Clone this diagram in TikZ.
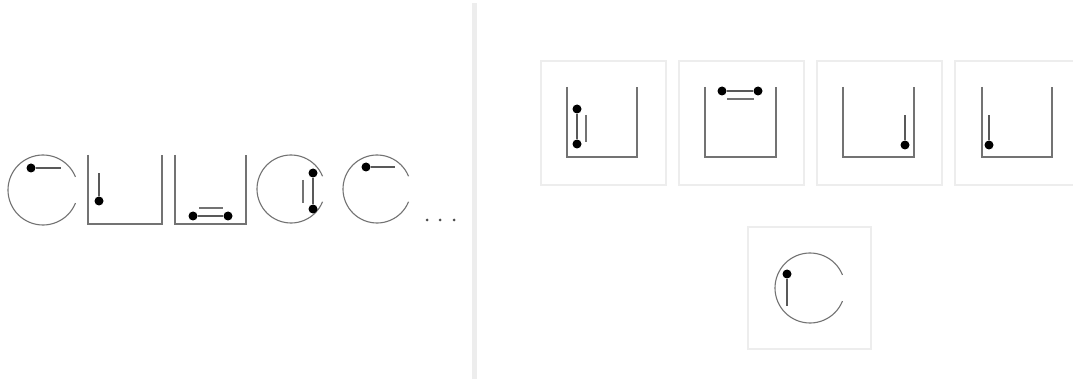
\documentclass[tikz,border=0pt]{standalone}
\begin{document}
\begin{tikzpicture}[x=1pt,y=-1pt,
  wall/.style={draw=black!55,line width=1.3pt},
  ring/.style={draw=black!55,line width=1.1pt},
  bar/.style={draw=black!65,line width=1.2pt},
  ghost/.style={draw=black!55,line width=1.2pt},
  ball/.style={circle,fill=black,inner sep=0pt,minimum size=9pt},
  frame/.style={draw=black!7,line width=1.4pt},
  divider/.style={fill=black!7,draw=none}]
\useasboundingbox (0,0) rectangle (1073,379);
\fill[white] (0,0) rectangle (1073,379);
% divider
\path[divider] (472,3) rectangle (477,379);

% ---------- left sequence ----------
% circle 1
\draw[ring] (43,190) ++(22:35) arc[start angle=22,end angle=338,radius=35];
\node[ball] (a1) at (31,168) {};
\coordinate (a1e) at (61,168);
\draw[bar] (a1) -- (a1e);
% box 1
\draw[wall] (88,155) -- (88,224) -- (162,224) -- (162,155);
\node[ball] (b1) at (99,201) {};
\coordinate (b1e) at (99,173);
\draw[bar] (b1) -- (b1e);
% box 2
\draw[wall] (175,155) -- (175,224) -- (246,224) -- (246,155);
\node[ball] (c1) at (193,216) {};
\node[ball] (c2) at (228,216) {};
\draw[bar] (c1) -- (c2);
\draw[ghost] (199,208) -- (223,208);
% circle 2
\draw[ring] (291,189) ++(22:34) arc[start angle=22,end angle=338,radius=34];
\node[ball] (d1) at (313,173) {};
\node[ball] (d2) at (313,209) {};
\draw[bar] (d1) -- (d2);
\draw[ghost] (303,180) -- (303,203);
% circle 3
\draw[ring] (377,189) ++(22:34) arc[start angle=22,end angle=338,radius=34];
\node[ball] (e1) at (366,167) {};
\coordinate (e1e) at (395,167);
\draw[bar] (e1) -- (e1e);
% ellipsis
\foreach \x in {427,440,454} \fill[black!70] (\x,220) circle (1.5);

% ---------- right options ----------
\foreach \fx in {541,679,817,955} \draw[frame] (\fx,61) rectangle ++(125,124);
\draw[frame] (748,227) rectangle (871,349);

% option A
\draw[wall] (567,87) -- (567,157) -- (637,157) -- (637,87);
\node[ball] (f1) at (577,109) {};
\node[ball] (f2) at (577,144) {};
\draw[bar] (f1) -- (f2);
\draw[ghost] (586,115) -- (586,142);
% option B
\draw[wall] (705,87) -- (705,157) -- (776,157) -- (776,87);
\node[ball] (g1) at (722,91) {};
\node[ball] (g2) at (758,91) {};
\draw[bar] (g1) -- (g2);
\draw[ghost] (727,99) -- (754,99);
% option C
\draw[wall] (843,87) -- (843,157) -- (914,157) -- (914,87);
\node[ball] (h1) at (905,145) {};
\coordinate (h1e) at (905,115);
\draw[bar] (h1) -- (h1e);
% option D
\draw[wall] (982,87) -- (982,157) -- (1052,157) -- (1052,87);
\node[ball] (i1) at (989,145) {};
\coordinate (i1e) at (989,115);
\draw[bar] (i1) -- (i1e);
% option E
\draw[ring] (810,288) ++(22:35) arc[start angle=22,end angle=338,radius=35];
\node[ball] (j1) at (787,274) {};
\coordinate (j1e) at (787,306);
\draw[bar] (j1) -- (j1e);
\end{tikzpicture}
\end{document}
